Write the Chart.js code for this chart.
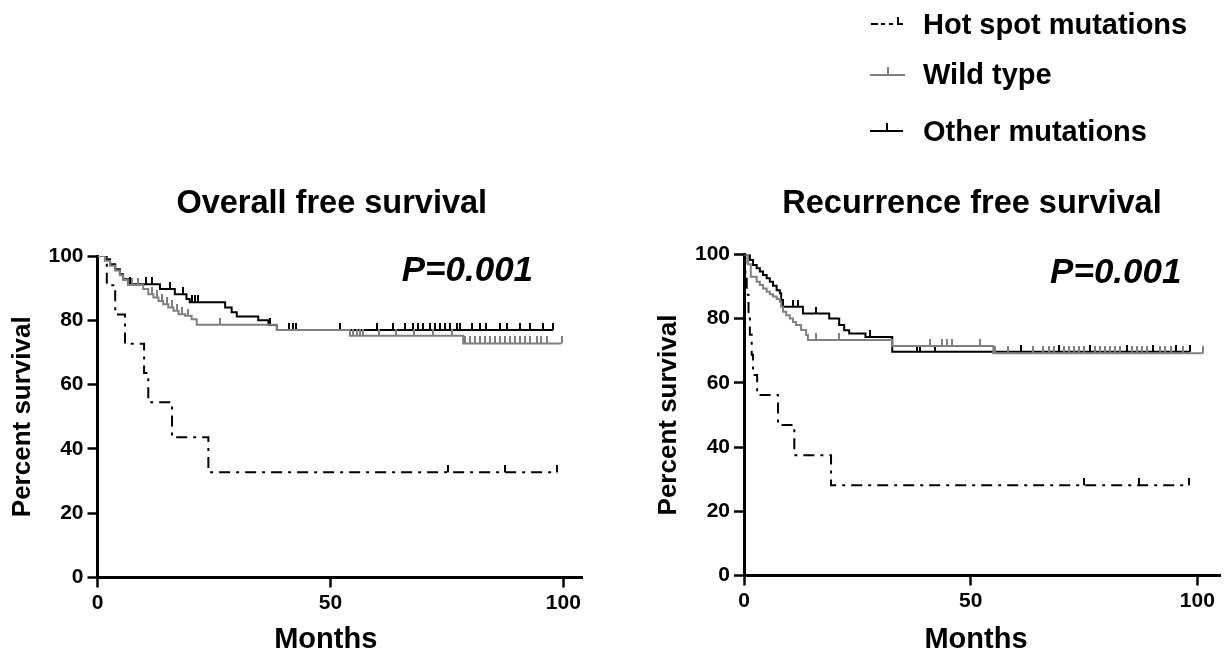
<!DOCTYPE html>
<html>
<head>
<meta charset="utf-8">
<script src="https://cdn.jsdelivr.net/npm/chart.js@4.4.1/dist/chart.umd.min.js"></script>
<style>
  html, body { margin: 0; padding: 0; background: #fff; }
  body { width: 1225px; height: 652px; position: relative; overflow: hidden; font-family: "Liberation Sans", Arial, sans-serif; }
  #osWrap { position: absolute; left: 0; top: 0; width: 612px; height: 652px; }
  #rfsWrap { position: absolute; left: 612px; top: 0; width: 613px; height: 652px; }
  .lg { position: absolute; z-index: 2; }
  .lg-text { position: absolute; z-index: 2; left: 923px; font-weight: bold; font-size: 29px; line-height: 29px; color: #000; white-space: nowrap; }
</style>
</head>
<body>
<div id="osWrap"><canvas id="osChart" width="612" height="652"></canvas></div>
<div id="rfsWrap"><canvas id="rfsChart" width="613" height="652"></canvas></div>

<!-- legend -->
<div class="lg" style="left:871px;top:23px;width:7px;height:2px;background:#000"></div>
<div class="lg" style="left:881px;top:23px;width:4px;height:2px;background:#000"></div>
<div class="lg" style="left:889px;top:23px;width:4px;height:2px;background:#000"></div>
<div class="lg" style="left:897px;top:17px;width:2px;height:8px;background:#000"></div>
<div class="lg" style="left:897px;top:23px;width:6px;height:2px;background:#000"></div>
<div class="lg-text" style="top:10px">Hot spot mutations</div>

<div class="lg" style="left:870px;top:74px;width:35px;height:2px;background:#808080"></div>
<div class="lg" style="left:887px;top:67px;width:2px;height:8px;background:#808080"></div>
<div class="lg-text" style="top:60px">Wild type</div>

<div class="lg" style="left:870px;top:130px;width:33px;height:2px;background:#000"></div>
<div class="lg" style="left:886px;top:123px;width:2px;height:8px;background:#000"></div>
<div class="lg-text" style="top:117px">Other mutations</div>

<script>
// ---- data: months at each step, survival (%) after the step, censored months ----
const xTickValues = [0, 50, 100];
const yTickValues = [0, 20, 40, 60, 80, 100];

// Overall free survival
const osHotTime = [0, 2.0, 3.8, 5.9, 10.0, 10.9, 16.0, 23.8, 98.7];
const osHotSurv = [100, 90.9, 81.8, 72.7, 63.6, 54.5, 43.6, 32.7, 32.7];
const osHotCens = [75.3, 87.4, 98.7];

const osWildTime = [0, 1.6, 2.7, 3.8, 4.8, 5.5, 6.6, 9.8, 10.9, 12, 13.1, 14.1, 15.2, 16.3, 17.4, 18.8, 20.2, 21.3, 38.5, 54.2, 78.5, 99.6];
const osWildSurv = [100, 98.5, 97, 95.5, 94, 92.5, 91, 89.7, 88.1, 87.1, 86, 85, 84, 83, 81.9, 81.4, 80.3, 78.6, 77, 75.2, 72.8, 72.8];
const osWildCens = [7.5, 8.6, 11.6, 12.7, 13.8, 14.9, 15.9, 17, 18.1, 19.5, 26.3, 54.9, 55.6, 56.3, 57, 60.5, 64, 68, 72, 76,
  78.9, 80, 81, 82.1, 83.1, 84.2, 85.3, 86.4, 87.4, 88.5, 89.6, 90.7, 91.7, 92.8, 94.3, 95.3, 96.4, 99.6];

const osOtherTime = [0, 1.6, 2.7, 3.8, 4.8, 5.5, 6.6, 13.4, 16.6, 19.1, 19.8, 27.4, 28.8, 29.9, 34.5, 36.7, 38.5, 97.8];
const osOtherSurv = [100, 99, 97.4, 95.9, 94.3, 92.8, 91.2, 89.7, 88.1, 86.6, 85.6, 84, 82.5, 81.2, 80, 78.5, 77, 77];
const osOtherCens = [6.9, 10.5, 11.6, 15.6, 18.4, 20.2, 20.9, 21.6, 37, 41, 42, 42.7, 52, 59.9, 63.5, 66, 67.8, 68.8, 69.9,
  71.4, 72.4, 73.5, 74.6, 75.6, 77.1, 77.8, 80.3, 82.1, 83.5, 86.4, 87.8, 90.7, 92.8, 95.7, 97.8];

// Recurrence free survival
const rfsHotTime = [0, 0.3, 0.6, 1.0, 1.3, 1.7, 2.0, 2.9, 7.5, 11.1, 19.2, 98.2];
const rfsHotSurv = [100, 93.75, 87.5, 81.25, 75, 68.75, 62.5, 56.25, 46.9, 37.5, 28.1, 28.1];
const rfsHotCens = [75, 87.1, 98.2];

const rfsWildTime = [0, 0.9, 1.5, 2.8, 3.5, 4.2, 5.0, 5.7, 6.4, 7.2, 7.9, 8.2, 8.6, 9.3, 10.1, 10.8, 11.5, 12.6, 13.7, 14.1, 32.7, 55, 101.2];
const rfsWildSurv = [100, 97, 93.1, 91.5, 90.5, 89.4, 88.4, 87.6, 86.9, 86.1, 85.3, 83.7, 82.2, 81.1, 80.1, 79, 78, 76.5, 74.9, 73.4, 71.5, 69.2, 69.2];
const rfsWildCens = [15.9, 21, 41.1, 43.6, 44.7, 45.8, 52, 55.3, 58.2, 63.7, 65.9, 67.3, 68.4, 70.6, 71.7, 72.8, 73.8, 74.9,
  77.5, 78.6, 79.7, 80.8, 81.9, 83, 85.5, 86.6, 87.7, 88.8, 91.7, 92.8, 94.3, 96.9, 101.2];

const rfsOtherTime = [0, 1.3, 2.0, 2.8, 3.5, 4.2, 5.0, 5.7, 6.4, 7.2, 7.9, 8.2, 8.6, 13, 18.8, 21, 22.1, 23.2, 26.8, 32.7, 98.3];
const rfsOtherSurv = [100, 98.3, 96.7, 95.7, 94.7, 93.6, 92.6, 91.5, 90.3, 88.9, 87.9, 85.8, 83.7, 81.6, 80.1, 78, 76.4, 75.4, 74.3, 69.7, 69.7];
const rfsOtherCens = [10.8, 11.9, 15.9, 27.9, 38.2, 38.9, 42.2, 61.1, 69.5, 76.4, 84.4, 90.3, 95.4, 98.3];

// ---- helpers ----
const FONT = "'Liberation Sans', Arial, sans-serif";
Chart.defaults.font.family = FONT;
Chart.defaults.color = '#000';

function toPoints(times, surv) {
  return times.map((t, i) => ({ x: t, y: surv[i] }));
}

// censored subjects sit on the curve: take the survival of the last step before t
function censorPoints(cens, times, surv) {
  return cens.map(t => {
    let s = surv[0];
    for (let i = 0; i < times.length; i++) {
      if (times[i] <= t) s = surv[i];
    }
    return { x: t, y: s };
  });
}

// little upward tick used as the point style for censored marks
function censorMark(color) {
  const c = document.createElement('canvas');
  c.width = 2;
  c.height = 14;
  const g = c.getContext('2d');
  g.fillStyle = color;
  g.fillRect(0, 0, 2, 7);
  return c;
}

// P value, panel title and x axis label (the last two sit a bit left of centre in the original)
const panelTextPlugin = {
  id: 'panelText',
  afterDatasetsDraw(chart, args, opts) {
    const { ctx, scales, chartArea } = chart;
    const mid = (chartArea.left + chartArea.right) / 2;
    ctx.save();
    ctx.fillStyle = '#000';

    ctx.font = 'italic bold 35px ' + FONT;
    ctx.textAlign = 'right';
    ctx.textBaseline = 'alphabetic';
    ctx.fillText(opts.pText, scales.x.getPixelForValue(opts.pAt[0]), scales.y.getPixelForValue(opts.pAt[1]));

    ctx.textAlign = 'center';
    ctx.textBaseline = 'middle';
    ctx.font = 'bold 32.5px ' + FONT;
    ctx.fillText(opts.title, mid + opts.titleDx, 204);
    ctx.font = 'bold 29px ' + FONT;
    ctx.fillText(opts.xLabel, mid + opts.xLabelDx, 640);
    ctx.restore();
  }
};

function buildChart(canvasId, titleText, groups, lay) {
  const datasets = [];
  groups.forEach(g => {
    datasets.push({
      data: toPoints(g.times, g.surv),
      stepped: true,
      borderColor: g.color,
      borderWidth: 2,
      borderDash: g.dash || [],
      pointRadius: 0,
      fill: false
    });
    datasets.push({
      data: censorPoints(g.cens, g.times, g.surv),
      showLine: false,
      pointStyle: censorMark(g.color),
      pointRadius: 4
    });
  });

  return new Chart(document.getElementById(canvasId), {
    type: 'line',
    data: { datasets },
    plugins: [panelTextPlugin],
    options: {
      responsive: false,
      animation: false,
      events: [],
      layout: { padding: { left: 0, right: lay.padRight, top: lay.top, bottom: 0 } },
      plugins: {
        legend: { display: false },
        tooltip: { enabled: false },
        title: { display: false },
        panelText: {
          pText: 'P=0.001', pAt: lay.pAt,
          title: titleText, titleDx: lay.titleDx,
          xLabel: 'Months', xLabelDx: lay.xLabelDx
        }
      },
      scales: {
        x: {
          type: 'linear',
          min: 0,
          max: lay.xMax,
          afterBuildTicks: s => { s.ticks = xTickValues.map(v => ({ value: v })); },
          afterFit: s => { s.height = lay.xAxisHeight; },
          border: { display: true, color: '#000', width: 3 },
          grid: { drawOnChartArea: false, drawTicks: true, tickLength: 10, tickWidth: 2.5, tickColor: '#000' },
          ticks: { color: '#000', font: { size: 21, weight: 'bold' }, padding: 3, maxRotation: 0, autoSkip: false }
        },
        y: {
          min: 0,
          max: 100,
          afterBuildTicks: s => { s.ticks = yTickValues.map(v => ({ value: v })); },
          afterFit: s => { s.width = lay.yAxisWidth; },
          border: { display: true, color: '#000', width: 3 },
          grid: { drawOnChartArea: false, drawTicks: true, tickLength: 10, tickWidth: 2.5, tickColor: '#000' },
          ticks: { color: '#000', font: { size: 21, weight: 'bold' }, padding: 4 },
          title: {
            display: true, text: 'Percent survival', color: '#000',
            font: { size: 26, weight: 'bold', lineHeight: 1 },
            padding: { top: lay.yTitlePad, bottom: 0 }
          }
        }
      }
    }
  });
}

const HOT_DASH = [11, 6, 3, 6];

buildChart('osChart', 'Overall free survival', [
  { times: osWildTime, surv: osWildSurv, cens: osWildCens, color: '#808080' },
  { times: osOtherTime, surv: osOtherSurv, cens: osOtherCens, color: '#000000' },
  { times: osHotTime, surv: osHotSurv, cens: osHotCens, color: '#000000', dash: HOT_DASH }
], { padRight: 30, top: 256, xMax: 104, yAxisWidth: 97.5, xAxisHeight: 74.5, yTitlePad: 10,
     pAt: [93.5, 92.2], titleDx: -8, xLabelDx: -14 });

buildChart('rfsChart', 'Recurrence free survival', [
  { times: rfsWildTime, surv: rfsWildSurv, cens: rfsWildCens, color: '#808080' },
  { times: rfsOtherTime, surv: rfsOtherSurv, cens: rfsOtherCens, color: '#000000' },
  { times: rfsHotTime, surv: rfsHotSurv, cens: rfsHotCens, color: '#000000', dash: HOT_DASH }
], { padRight: 1, top: 254.5, xMax: 105, yAxisWidth: 132, xAxisHeight: 76.5, yTitlePad: 44,
     pAt: [96.5, 91.1], titleDx: -10, xLabelDx: -6 });
</script>
</body>
</html>
